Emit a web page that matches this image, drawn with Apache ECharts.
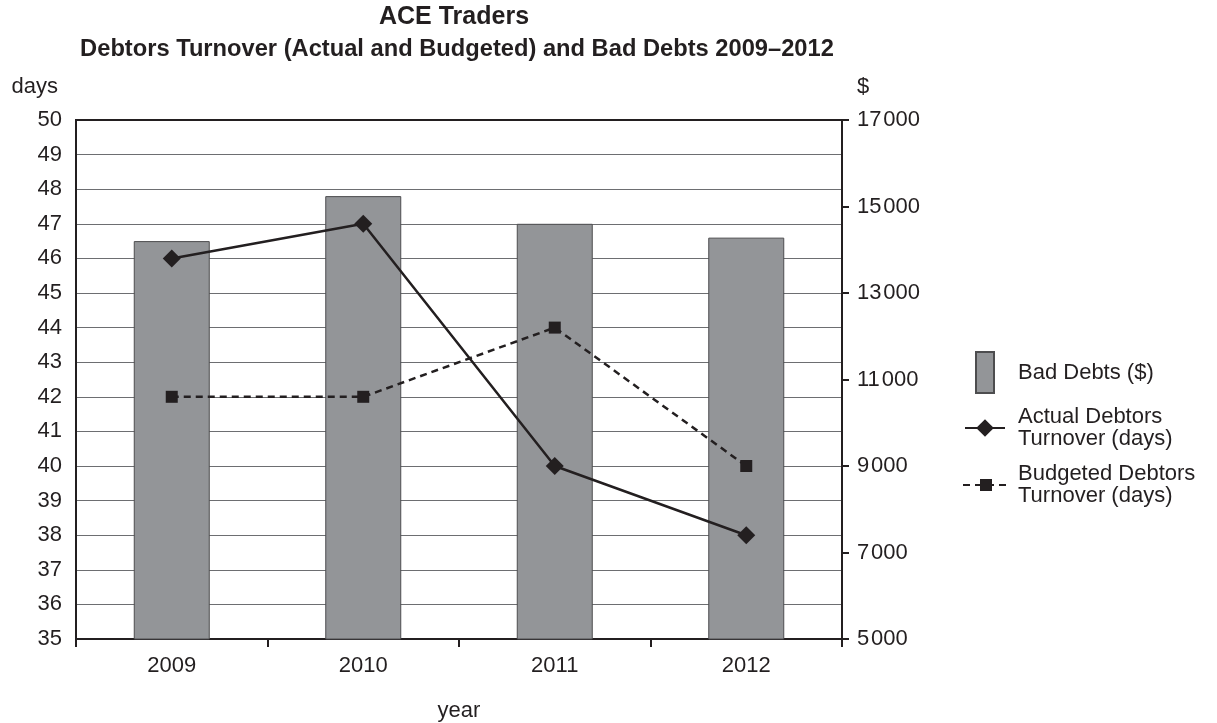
<!DOCTYPE html>
<html>
<head>
<meta charset="utf-8">
<script src="https://cdn.jsdelivr.net/npm/echarts@6/dist/echarts.min.js"></script>
<style>
html,body{margin:0;padding:0;background:#fff;overflow:hidden;}
#chart{width:1217px;height:723px;}
</style>
</head>
<body>
<div id="chart"></div>
<script>
const years = ['2009', '2010', '2011', '2012'];
const badDebts = [14200, 15240, 14600, 14280];
const actualTurnover = [46, 47, 40, 38];
const budgetedTurnover = [42, 42, 44, 40];
const daysTicks = {min: 35, max: 50, interval: 1};
const dollarTicks = {min: 5000, max: 17000, interval: 2000};

const FONT = 'Liberation Sans, Arial, Helvetica, sans-serif';
const INK = '#231f20';
const FS = 22;
const chart = echarts.init(document.getElementById('chart'), null, {renderer: 'canvas'});

const gridColors = [];
for (let v = daysTicks.min; v <= daysTicks.max; v += daysTicks.interval) {
  gridColors.push(v === daysTicks.max ? INK : '#6d6e71');
}

chart.setOption({
  backgroundColor: '#fff',
  animation: false,
  textStyle: {fontFamily: FONT, color: INK},
  title: [
    {text: 'ACE Traders', left: 454, top: 5, textAlign: 'center', padding: 0,
     textStyle: {fontFamily: FONT, fontSize: 25, fontWeight: 'bold', color: INK}},
    {text: 'Debtors Turnover (Actual and Budgeted) and Bad Debts 2009\u20132012', left: 457, top: 37, textAlign: 'center', padding: 0,
     textStyle: {fontFamily: FONT, fontSize: 23.7, fontWeight: 'bold', color: INK}}
  ],
  grid: {left: 76, right: 375, top: 120, bottom: 84, containLabel: false, outerBoundsMode: 'none',
         show: true, borderColor: INK, borderWidth: 2, backgroundColor: 'transparent'},
  legend: [
    {
      data: ['Bad Debts ($)'],
      left: 975, top: 351, padding: 0,
      itemWidth: 18, itemHeight: 41,
      icon: 'rect',
      selectedMode: false,
      textStyle: {fontFamily: FONT, fontSize: FS, color: INK, padding: [0, 0, 0, 19]}
    },
    {
      data: ['Actual Debtors Turnover (days)'],
      left: 964, top: 406, padding: 0,
      itemWidth: 40, itemHeight: 22,
      selectedMode: false,
      formatter: function (name) { return name.replace(' Turnover', '\nTurnover'); },
      textStyle: {fontFamily: FONT, fontSize: FS, color: INK, lineHeight: 22, padding: [0, 0, 0, 8]}
    },
    {
      data: ['Budgeted Debtors Turnover (days)'],
      left: 962, top: 463, padding: 0,
      itemWidth: 46, itemHeight: 15,
      selectedMode: false,
      formatter: function (name) { return name.replace(' Turnover', '\nTurnover'); },
      textStyle: {fontFamily: FONT, fontSize: FS, color: INK, lineHeight: 22, padding: [0, 0, 0, 4]}
    }
  ],
  xAxis: {
    type: 'category',
    data: years,
    boundaryGap: true,
    name: 'year',
    nameLocation: 'middle',
    nameGap: 61,
    nameTextStyle: {fontFamily: FONT, fontSize: FS, color: INK},
    axisLine: {show: true, lineStyle: {color: INK, width: 2}},
    axisTick: {show: true, length: 8, lineStyle: {color: INK, width: 2}},
    axisLabel: {fontFamily: FONT, fontSize: FS, color: INK, margin: 16},
    splitLine: {show: false}
  },
  yAxis: [
    {
      type: 'value',
      min: daysTicks.min, max: daysTicks.max, interval: daysTicks.interval,
      position: 'left',
      name: 'days',
      nameLocation: 'end',
      nameGap: 22,
      nameTextStyle: {fontFamily: FONT, fontSize: FS, color: INK, align: 'right', padding: [0, 18, 0, 0]},
      axisLine: {show: true, lineStyle: {color: INK, width: 2}},
      axisTick: {show: false},
      axisLabel: {fontFamily: FONT, fontSize: FS, color: INK, margin: 14},
      splitLine: {show: true, lineStyle: {color: gridColors, width: 1}}
    },
    {
      type: 'value',
      min: dollarTicks.min, max: dollarTicks.max, interval: dollarTicks.interval,
      position: 'right',
      name: '$',
      nameLocation: 'end',
      nameGap: 22,
      nameTextStyle: {fontFamily: FONT, fontSize: FS, color: INK, align: 'left', padding: [0, 0, 0, 15]},
      axisLine: {show: true, lineStyle: {color: INK, width: 2}},
      axisTick: {show: true, length: 7, lineStyle: {color: INK, width: 2}},
      axisLabel: {
        fontFamily: FONT, fontSize: FS, color: INK, margin: 15,
        formatter: function (v) {
          const s = String(v);
          return s.length > 3 ? s.slice(0, s.length - 3) + '\u200a' + s.slice(-3) : s;
        }
      },
      splitLine: {show: false}
    }
  ],
  series: [
    {
      name: 'Bad Debts ($)',
      type: 'bar',
      yAxisIndex: 1,
      data: badDebts,
      barWidth: 76,
      z: 1,
      itemStyle: {color: '#939598', borderColor: '#4d4d4f', borderWidth: 1}
    },
    {
      name: 'Actual Debtors Turnover (days)',
      type: 'line',
      yAxisIndex: 0,
      data: actualTurnover,
      symbol: 'diamond',
      symbolSize: 18,
      z: 5,
      lineStyle: {color: INK, width: 2.5},
      itemStyle: {color: INK}
    },
    {
      name: 'Budgeted Debtors Turnover (days)',
      type: 'line',
      yAxisIndex: 0,
      data: budgetedTurnover,
      symbol: 'rect',
      symbolSize: 12,
      z: 5,
      lineStyle: {color: INK, width: 2.5, type: [7, 5]},
      itemStyle: {color: INK}
    }
  ]
});
</script>
</body>
</html>
